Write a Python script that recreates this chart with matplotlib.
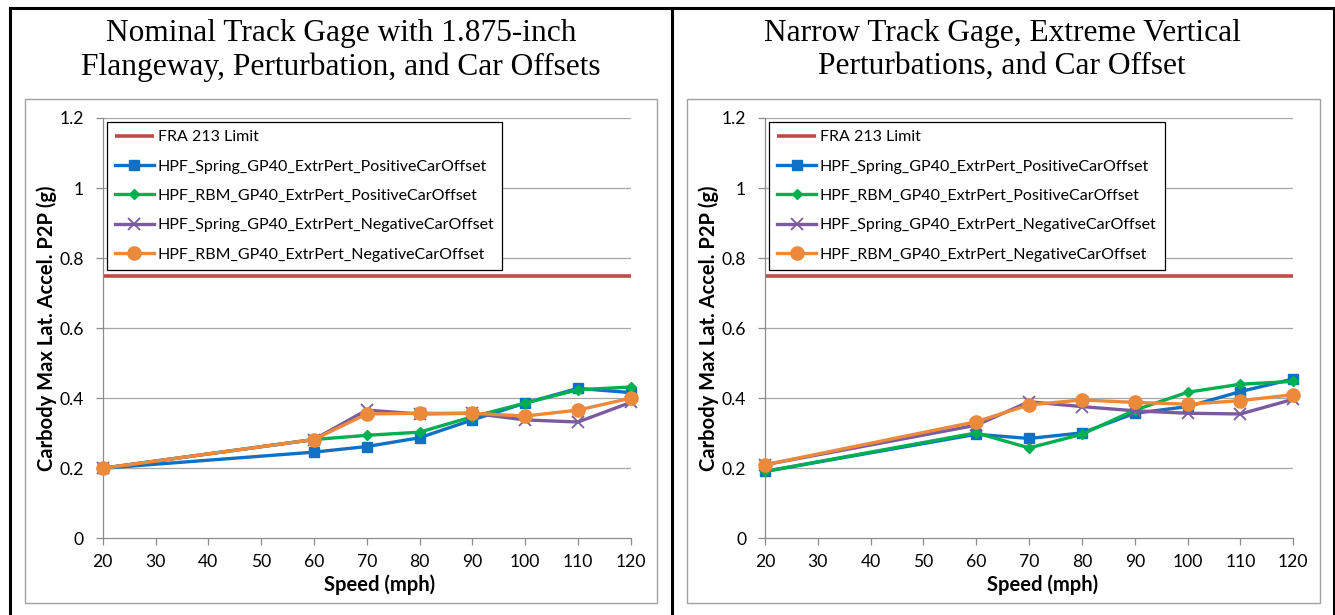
import matplotlib
matplotlib.use("Agg")
import matplotlib.pyplot as plt
from matplotlib.lines import Line2D
from matplotlib.patches import Rectangle

# ---------------- data ----------------
speed = [20, 60, 70, 80, 90, 100, 110, 120]
limit_speed = [20, 120]
limit = [0.75, 0.75]

left_spring_pos = [0.200, 0.246, 0.262, 0.287, 0.338, 0.386, 0.428, 0.416]
left_rbm_pos = [0.200, 0.282, 0.294, 0.303, 0.347, 0.386, 0.424, 0.432]
left_spring_neg = [0.200, 0.282, 0.366, 0.355, 0.357, 0.338, 0.332, 0.388]
left_rbm_neg = [0.200, 0.282, 0.355, 0.357, 0.357, 0.349, 0.366, 0.400]

right_spring_pos = [0.191, 0.297, 0.285, 0.301, 0.357, 0.376, 0.419, 0.455]
right_rbm_pos = [0.191, 0.301, 0.258, 0.297, 0.366, 0.417, 0.440, 0.448]
right_spring_neg = [0.210, 0.323, 0.390, 0.376, 0.364, 0.357, 0.355, 0.397]
right_rbm_neg = [0.210, 0.333, 0.381, 0.395, 0.388, 0.383, 0.393, 0.410]

series_names = [
    "HPF_Spring_GP40_ExtrPert_PositiveCarOffset",
    "HPF_RBM_GP40_ExtrPert_PositiveCarOffset",
    "HPF_Spring_GP40_ExtrPert_NegativeCarOffset",
    "HPF_RBM_GP40_ExtrPert_NegativeCarOffset",
]
limit_name = "FRA 213 Limit"

left_title = "Nominal Track Gage with 1.875-inch\nFlangeway, Perturbation, and Car Offsets"
right_title = "Narrow Track Gage, Extreme Vertical\nPerturbations, and Car Offset"

x_ticks = [20, 30, 40, 50, 60, 70, 80, 90, 100, 110, 120]
y_ticks = [0, 0.2, 0.4, 0.6, 0.8, 1.0, 1.2]
y_tick_labels = ["0", "0.2", "0.4", "0.6", "0.8", "1", "1.2"]
x_label = "Speed (mph)"
y_label = "Carbody Max Lat. Accel. P2P (g)"

# ---------------- style ----------------
plt.rcParams['font.family'] = ['Lato', 'DejaVu Sans']
W, H = 1335, 615
fig = plt.figure(figsize=(W / 100, H / 100), dpi=100)
fig.patch.set_facecolor('white')


def fx(x):
    return x / W


def fy(y):
    return 1 - y / H


red = '#BE4B48'
blue = '#1070C4'
green = '#00B050'
purple = '#7A5C9E'
orange = '#EC8A3C'
axis_gray = '#8C8C8C'
grid_gray = '#A6A6A6'

styles = [
    dict(color=blue, marker='s', ms=7, mfc=blue, mec=blue),
    dict(color=green, marker='D', ms=5, mfc=green, mec=green),
    dict(color=purple, marker='x', ms=9, mew=1.3, mec=purple),
    dict(color=orange, marker='o', ms=9.5, mfc=orange, mec=orange),
]

# outer frame lines
for (xs, ys) in [((10, 10), (8, 615)), ((1334, 1334), (8, 615)),
                 ((10, 1334), (8, 8)), ((671.7, 671.7), (8, 615))]:
    fig.add_artist(Line2D([fx(v) for v in xs], [fy(v) for v in ys],
                          transform=fig.transFigure, color='black', lw=2.2))

# chart area borders
for (x0, y0, x1, y1) in [(25, 99, 657, 603), (687, 99, 1320, 603)]:
    fig.add_artist(Rectangle((fx(x0), fy(y1)), fx(x1 - x0), (y1 - y0) / H,
                             transform=fig.transFigure, fill=False,
                             ec='#A0A0A0', lw=1.0))

# titles
fig.text(fx(341), fy(50), left_title, ha='center', va='center',
         family='Liberation Serif', fontsize=22.6, linespacing=1.2)
fig.text(fx(1002), fy(50), right_title, ha='center', va='center',
         family='Liberation Serif', fontsize=22.6, linespacing=1.2)

panels = [
    (102.7, 630.7, [left_spring_pos, left_rbm_pos, left_spring_neg, left_rbm_neg]),
    (765.0, 1293.3, [right_spring_pos, right_rbm_pos, right_spring_neg, right_rbm_neg]),
]

y_top, y_bot = 118.0, 538.3
for (x_l, x_r, data) in panels:
    ax = fig.add_axes([fx(x_l), fy(y_bot), (x_r - x_l) / W, (y_bot - y_top) / H])
    ax.set_facecolor('none')
    ax.set_xlim(20, 120)
    ax.set_ylim(0, 1.2)
    for s in ['top', 'right']:
        ax.spines[s].set_visible(False)
    for s in ['left', 'bottom']:
        ax.spines[s].set_color(axis_gray)
        ax.spines[s].set_linewidth(0.9)
    ax.set_xticks(x_ticks)
    ax.set_yticks(y_ticks)
    ax.set_yticklabels(y_tick_labels)
    ax.tick_params(axis='both', colors=axis_gray, labelcolor='black',
                   length=5, width=0.9, labelsize=12.6)
    ax.tick_params(axis='y', pad=8.5)
    ax.tick_params(axis='x', pad=6)
    for yv in y_ticks[1:]:
        ax.axhline(yv, color=grid_gray, lw=0.9, zorder=0)

    handles = []
    h, = ax.plot(limit_speed, limit, color=red, lw=2.6, label=limit_name,
                 solid_capstyle='butt', zorder=2)
    handles.append(h)
    for vals, name, st in zip(data, series_names, styles):
        h, = ax.plot(speed, vals, lw=2.4, label=name, zorder=3,
                     clip_on=False, **st)
        handles.append(h)

    leg = ax.legend(handles=handles, loc='upper left',
                    bbox_to_anchor=(4.5 / (x_r - x_l), (y_bot - 122) / (y_bot - y_top)),
                    borderaxespad=0, fancybox=False, framealpha=1,
                    edgecolor='black', fontsize=11.5, handlelength=2.4,
                    handletextpad=0.25, labelspacing=0.95, borderpad=0.5)
    leg.get_frame().set_linewidth(0.9)
    leg.set_zorder(5)

    # axis titles
    cx = (x_l + x_r) / 2 + 13
    fig.text(fx(cx), fy(585), x_label, ha='center', va='center',
             fontsize=14.5, fontweight='bold')
    fig.text(fx(x_l - 56), fy((y_top + y_bot) / 2), y_label, ha='center',
             va='center', rotation=90, fontsize=14.5, fontweight='bold')

fig.savefig('out.png', dpi=100)
